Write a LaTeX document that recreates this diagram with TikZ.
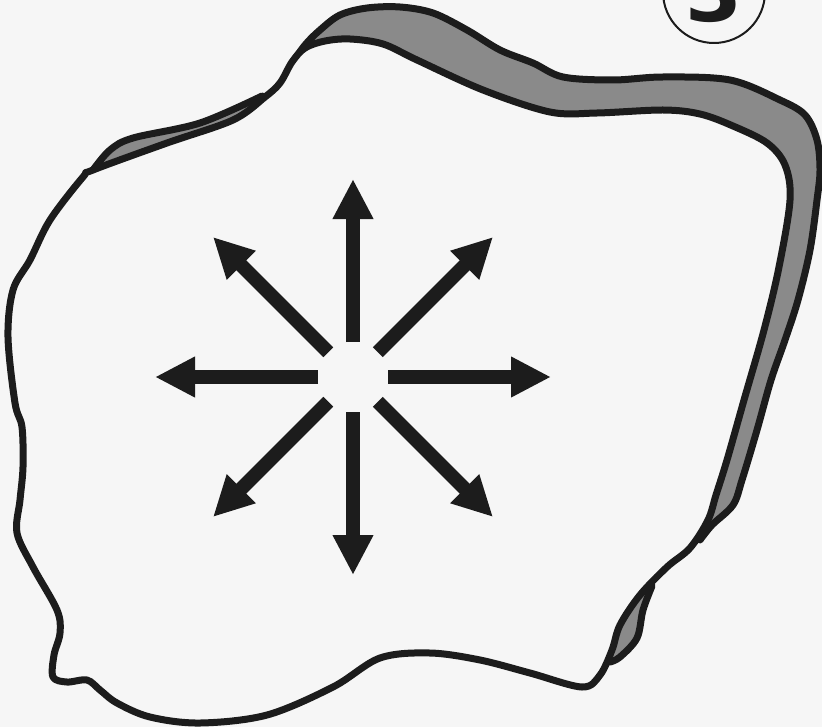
\documentclass[tikz,border=0pt]{standalone}
\usepackage{fontspec}
\newfontfamily\badgefont{DejaVu Sans}
\usetikzlibrary{arrows.meta,calc}
\definecolor{rkPaper}{RGB}{246,246,246}
\definecolor{rkInk}  {RGB}{ 28, 28, 28}
\definecolor{rkRim}  {RGB}{138,138,138}

\begin{document}
\begin{tikzpicture}[x=0.5pt,y=-0.5pt,
  rimline/.style={draw=rkInk,line width=3.5pt,line join=round,line cap=round},
  rimfill/.style={fill=rkRim},
  ray/.style={draw=rkInk,line width=7pt,-{Triangle[width=19pt,length=20pt]}},
  badge/.style={circle,draw=rkInk,line width=1pt,minimum size=51pt,inner sep=0pt,
                text=rkInk,font=\badgefont\bfseries\fontsize{41}{41}\selectfont}
]
\useasboundingbox (0,0) rectangle (822,727);
\clip (0,0) rectangle (822,727);
\fill[rkPaper] (0,0) rectangle (822,727);

% badge, cut by the top edge
\node[badge] (num) at (714,-8) {3};

% raised rim behind the slab
\fill[rimfill] plot[smooth,tension=0.55] coordinates {
  (93,170) (110,150) (133,138) (200,123) (262,96) (287,70) (305,45) (320,30)
  (340,15) (367,8) (400,7) (433,13) (467,30) (500,50) (533,63) (563,77)
  (613,80) (663,77) (730,80) (780,100) (805,115) (817,140) (820,170)
  (817,200) (810,250) (798,300) (785,340) (771,380) (757,430) (742,480)
  (733,505) (712,525) (690,550) (662,574) (650,590) (643,610) (637,638)
  (620,657) (610,662)} -- (450,350) -- cycle;
\draw[rimline] plot[smooth,tension=0.55] coordinates {
  (93,170) (110,150) (133,138) (200,123) (262,96)};
\draw[rimline] plot[smooth,tension=0.55] coordinates {
  (290,66) (305,45) (320,30) (340,15) (367,8) (400,7) (433,13) (467,30)
  (500,50) (533,63) (563,77) (613,80) (663,77) (730,80) (780,100) (805,115)
  (817,140) (820,170) (817,200) (810,250) (798,300) (785,340) (771,380)
  (757,430) (742,480) (733,505) (712,525) (700,540)};
\draw[rimline] plot[smooth,tension=0.55] coordinates {
  (652,586) (643,610) (637,638) (620,657) (610,662)};

% front face
\path[rimline,fill=rkPaper] plot[smooth cycle,tension=0.55] coordinates {
  (93,170) (167,143) (233,120) (265,97) (280,83) (292,62) (305,48) (325,41)
  (350,39) (383,44) (417,60) (483,90) (550,112) (597,113) (663,110) (700,114)
  (733,126) (767,143) (785,165) (790,200) (779,267) (764,330) (744,400)
  (727,460) (716,495) (708,520) (690,548) (667,567) (640,595) (620,625)
  (612,650) (600,675) (582,687) (530,673) (480,660) (430,653) (380,658)
  (333,687) (267,715) (200,723) (150,717) (117,703) (100,690) (87,680)
  (67,682) (53,677) (54,655) (60,633) (57,610) (33,567) (17,533) (20,500)
  (23,467) (22,427) (15,403) (8,337) (13,290) (30,260) (50,220) (83,177)};

% eight rays out of the middle
\coordinate (hub) at (353,377);
\foreach \a in {0,45,...,315}{
  \coordinate (s\a) at ($(hub)+(\a:35)$);
  \coordinate (t\a) at ($(hub)+(\a:198)$);
  \draw[ray] (s\a) -- (t\a);
}
\end{tikzpicture}
\end{document}
